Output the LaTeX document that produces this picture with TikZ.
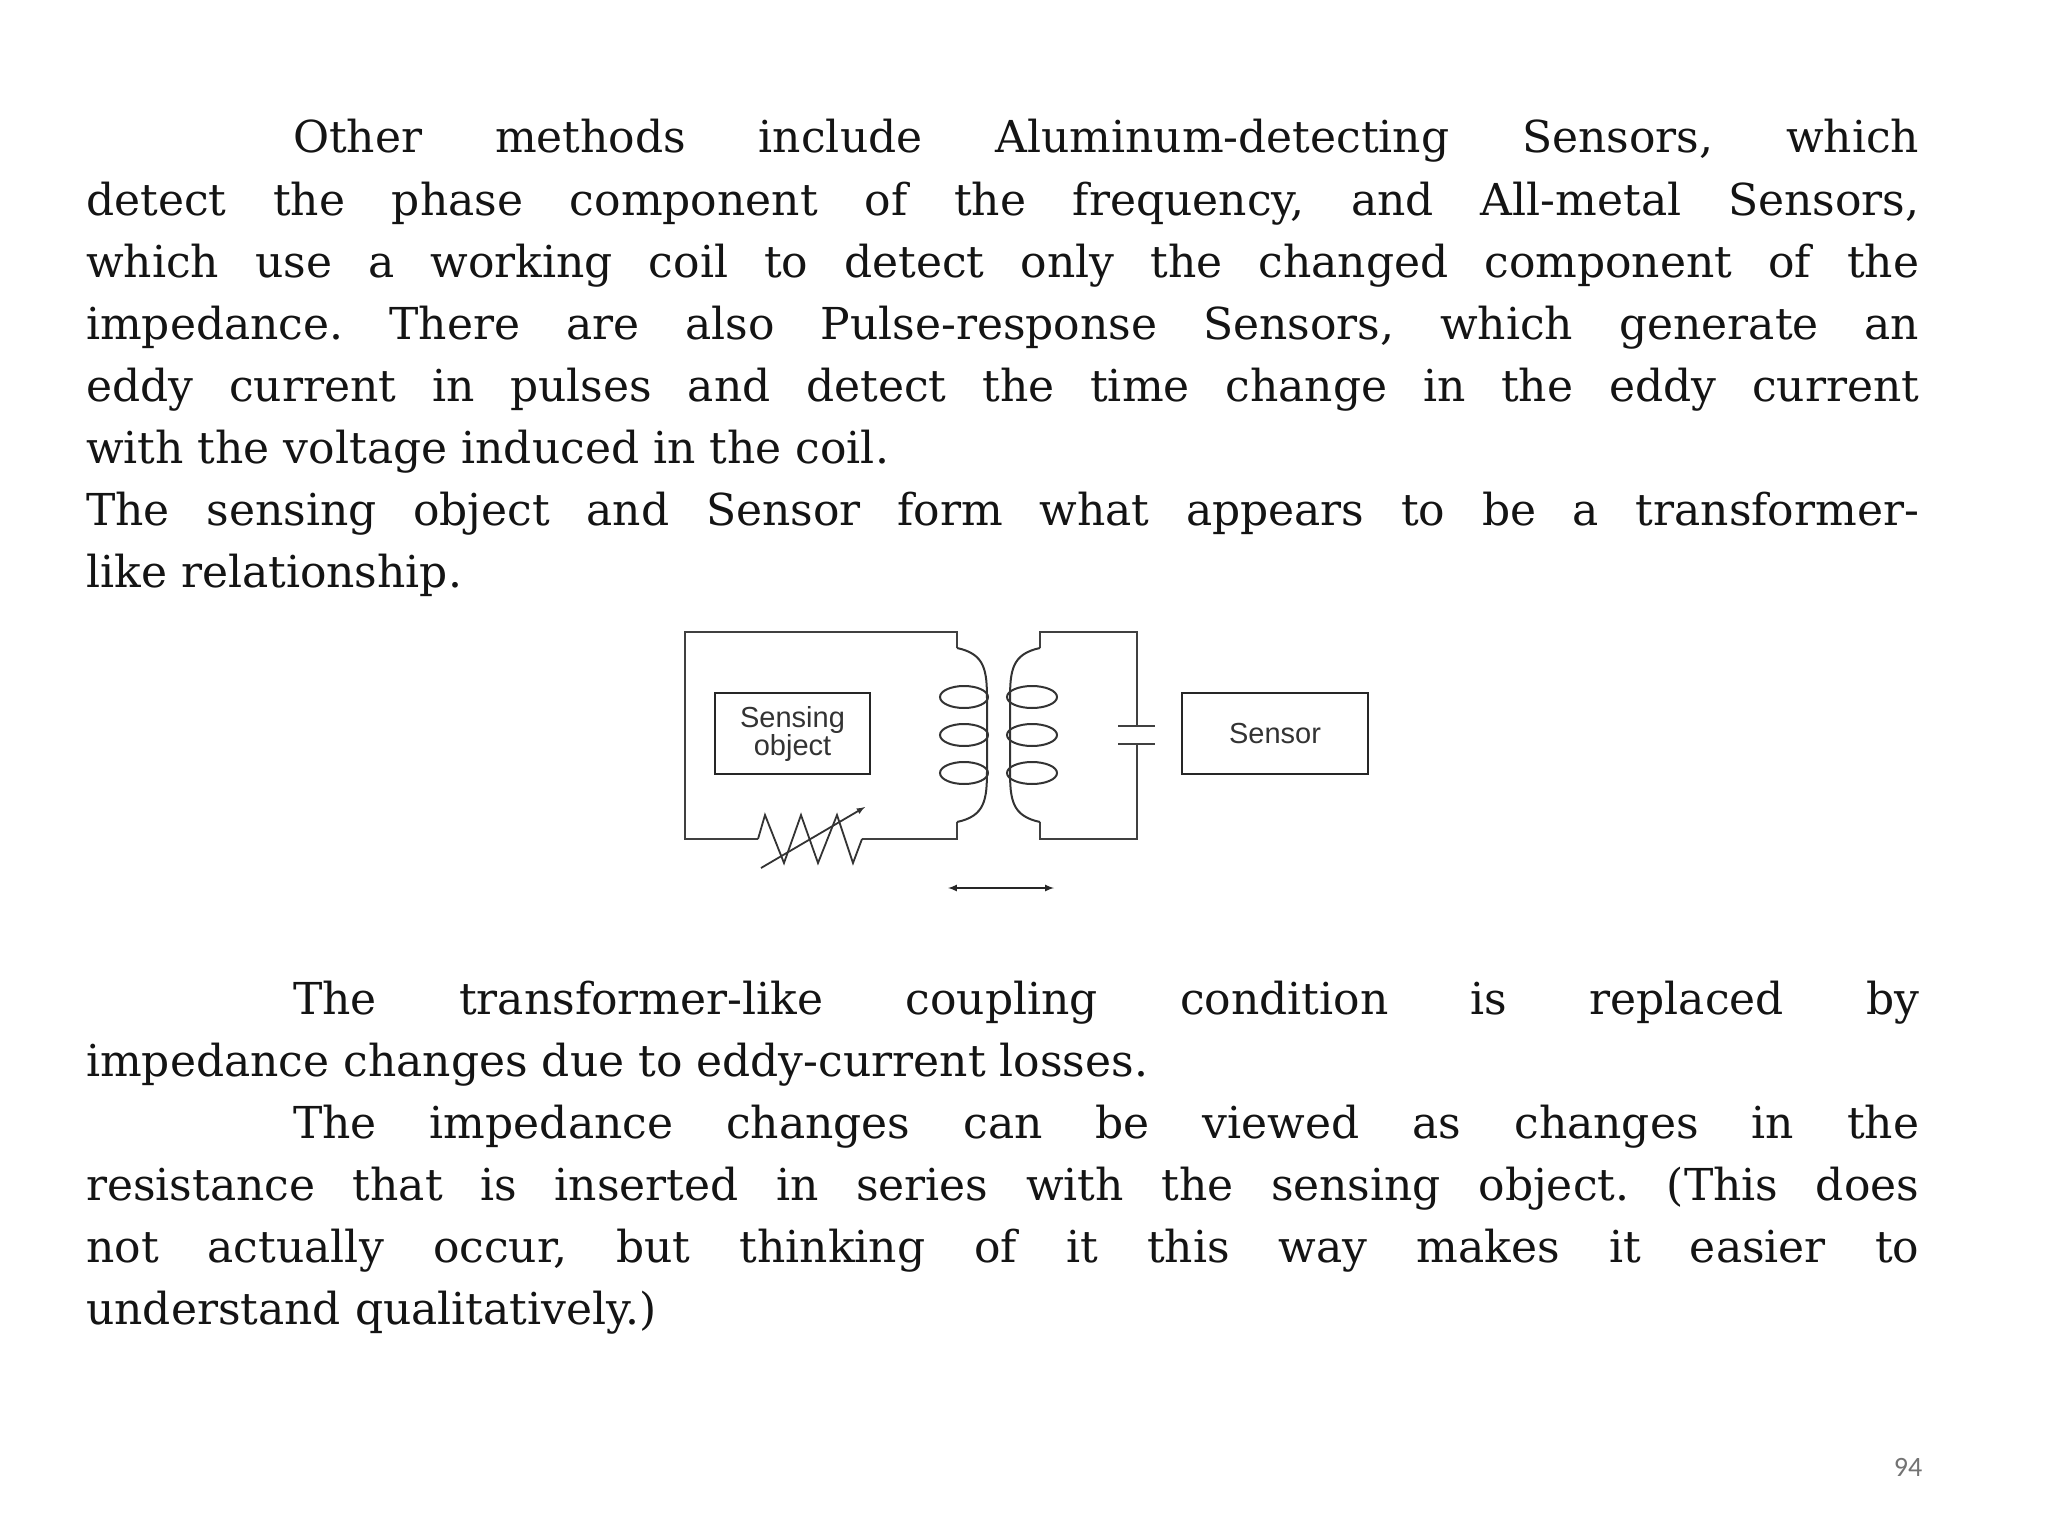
\documentclass[tikz,border=0pt]{standalone}
\usepackage{fontspec}
\setmainfont{DejaVu Serif}
\newfontfamily\diag{Liberation Sans}
\newfontfamily\pnum{Carlito}
\frenchspacing
\begin{document}
\begin{tikzpicture}[x=1pt,y=-1pt,
  txt/.style={anchor=base west,inner sep=0pt,font=\fontsize{44}{62}\selectfont,text=black!92},
  wire/.style={line width=2.4pt,draw=black!75},
  coilw/.style={line width=2pt,draw=black!80},
  boxn/.style={draw=black!85,line width=2.4pt,inner sep=0pt,font=\diag\fontsize{29}{31}\selectfont,align=center,text=black!80}]
\useasboundingbox (0,0) rectangle (2048,1536);
\def\W{1833}
\def\Wi{1626}
\node[txt] (t1) at (293,153) {\makebox[\Wi pt][s]{Other methods include Aluminum-detecting Sensors, which}};
\node[txt] (t2) at (86,215) {\makebox[\W pt][s]{detect the phase component of the frequency, and All-metal Sensors,}};
\node[txt] (t3) at (86,277) {\makebox[\W pt][s]{which use a working coil to detect only the changed component of the}};
\node[txt] (t4) at (86,339) {\makebox[\W pt][s]{impedance. There are also Pulse-response Sensors, which generate an}};
\node[txt] (t5) at (86,401) {\makebox[\W pt][s]{eddy current in pulses and detect the time change in the eddy current}};
\node[txt] (t6) at (86,463) {with the voltage induced in the coil.};
\node[txt] (t7) at (86,525) {\makebox[\W pt][s]{The sensing object and Sensor form what appears to be a transformer-}};
\node[txt] (t8) at (86,587) {like relationship.};
\node[txt] (u1) at (293,1014) {\makebox[\Wi pt][s]{The transformer-like coupling condition is replaced by}};
\node[txt] (u2) at (86,1076) {impedance changes due to eddy-current losses.};
\node[txt] (u3) at (293,1138) {\makebox[\Wi pt][s]{The impedance changes can be viewed as changes in the}};
\node[txt] (u4) at (86,1200) {\makebox[\W pt][s]{resistance that is inserted in series with the sensing object. (This does}};
\node[txt] (u5) at (86,1262) {\makebox[\W pt][s]{not actually occur, but thinking of it this way makes it easier to}};
\node[txt] (u6) at (86,1324) {understand qualitatively.)};
\node[font=\pnum\fontsize{28}{30}\selectfont,text=black!55] (pg) at (1908,1467) {94};
% boxes
\node[boxn,minimum width=155pt,minimum height=81pt] (so) at (792.5,733.5) {Sensing\\[-3pt]object};
\node[boxn,minimum width=186pt,minimum height=81pt] (se) at (1275,733.5) {Sensor};
% left loop
\coordinate (lt) at (957,648); \coordinate (lb) at (957,822);
\draw[wire] (lt) -- (957,632) -- (685,632) -- (685,839) -- (758,839);
\draw[wire] (lb) -- (957,839) -- (862,839);
\draw[line width=1.8pt,black!80] (758,839) -- (765,815) -- (784,863) -- (801,815) -- (818,863) -- (837,815) -- (853,863) -- (862,839);
\draw[line width=1.8pt,black!80,-latex] (761,868) -- (865,807);
\draw[coilw] (lt) .. controls (985,654) and (987,670) .. (987,700) -- (987,770) .. controls (987,800) and (985,816) .. (lb);
\foreach \y in {697,735,773} \draw[coilw] (964,\y) ellipse (24 and 11);
% right loop
\coordinate (rt) at (1040,648); \coordinate (rb) at (1040,822);
\coordinate (ca) at (1137,726); \coordinate (cb) at (1137,744);
\draw[wire] (rt) -- (1040,632) -- (1137,632) -- (ca);
\draw[wire] (cb) -- (1137,839) -- (1040,839) -- (rb);
\draw[wire] (1118,726) -- (1155,726);
\draw[wire] (1118,744) -- (1155,744);
\draw[coilw] (rt) .. controls (1012,654) and (1010,670) .. (1010,700) -- (1010,770) .. controls (1010,800) and (1012,816) .. (rb);
\foreach \y in {697,735,773} \draw[coilw] (1032,\y) ellipse (25 and 11);
% motion arrow
\coordinate (ma) at (948,888); \coordinate (mb) at (1054,888);
\draw[line width=2pt,black!85,latex-latex] (ma) -- (mb);
\end{tikzpicture}
\end{document}
